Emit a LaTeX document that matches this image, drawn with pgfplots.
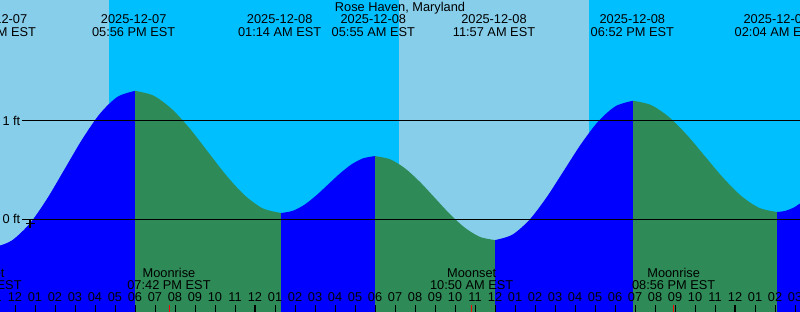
\documentclass[border=0pt]{standalone}
\usepackage{pgfplots}
\pgfplotsset{compat=1.18}
\usepackage{fontspec}
\setmainfont{Liberation Sans}
\definecolor{daysky}{HTML}{87CEEB}
\definecolor{nightsky}{HTML}{00BFFF}
\definecolor{rise}{HTML}{0000FF}
\definecolor{fall}{HTML}{2E8B57}
\newcommand{\lf}{\fontsize{12.8bp}{12.4bp}\selectfont}
\begin{document}
\begin{tikzpicture}
\begin{axis}[
  scale only axis, width=800bp, height=312bp,
  xmin=11.25, xmax=51.25, ymin=-0.938, ymax=2.22,
  axis line style={draw=none},
  axis on top,
  clip=false,
  xtick={12,...,51},
  xticklabels={12,01,02,03,04,05,06,07,08,09,10,11,12,01,02,03,04,05,06,07,08,09,10,11,12,01,02,03,04,05,06,07,08,09,10,11,12,01,02,03},
  xtick pos=bottom, ytick=\empty,
  tick align=inside, major tick length=7bp,
  tick style={black, line width=1bp},
  xticklabel style={font=\lf, anchor=base, yshift=10.2bp, inner sep=0pt},
  extra x ticks={24,48}, extra x tick labels={},
  extra x tick style={major tick style={line width=2.5bp}},
]
% day / night background
\addplot[fill=daysky, draw=none] coordinates {(11.25,-0.938) (11.25,2.22) (16.7,2.22) (16.7,-0.938)};
\addplot[fill=nightsky, draw=none] coordinates {(16.7,-0.938) (16.7,2.22) (31.2,2.22) (31.2,-0.938)};
\addplot[fill=daysky, draw=none] coordinates {(31.2,-0.938) (31.2,2.22) (40.7,2.22) (40.7,-0.938)};
\addplot[fill=nightsky, draw=none] coordinates {(40.7,-0.938) (40.7,2.22) (51.25,2.22) (51.25,-0.938)};
% tide curve
\addplot[fill=rise, draw=none, smooth] coordinates {(11.25,-0.265) (11.875,-0.210) (12.75,-0.040) (13.625,0.215) (14.5,0.515) (15.375,0.815) (16.25,1.070) (17.125,1.240) (18.0,1.300)} -- (axis cs:18.0,-0.938) -- (axis cs:11.25,-0.938) -- cycle;
\addplot[fill=fall, draw=none, smooth] coordinates {(18.0,1.300) (18.9125,1.253) (19.825,1.119) (20.7375,0.919) (21.65,0.682) (22.5625,0.445) (23.475,0.245) (24.3875,0.111) (25.3,0.064)} -- (axis cs:25.3,-0.938) -- (axis cs:18.0,-0.938) -- cycle;
\addplot[fill=rise, draw=none, smooth] coordinates {(25.3,0.064) (25.8875,0.086) (26.475,0.148) (27.0625,0.242) (27.65,0.352) (28.2375,0.462) (28.825,0.556) (29.4125,0.618) (30.0,0.640)} -- (axis cs:30.0,-0.938) -- (axis cs:25.3,-0.938) -- cycle;
\addplot[fill=fall, draw=none, smooth] coordinates {(30.0,0.640) (30.75,0.608) (31.5,0.516) (32.25,0.378) (33.0,0.215) (33.75,0.052) (34.5,-0.086) (35.25,-0.178) (36.0,-0.210)} -- (axis cs:36.0,-0.938) -- (axis cs:30.0,-0.938) -- cycle;
\addplot[fill=rise, draw=none, smooth] coordinates {(36.0,-0.210) (36.8625,-0.156) (37.725,-0.004) (38.5875,0.225) (39.45,0.495) (40.3125,0.765) (41.175,0.994) (42.0375,1.146) (42.9,1.200)} -- (axis cs:42.9,-0.938) -- (axis cs:36.0,-0.938) -- cycle;
\addplot[fill=fall, draw=none, smooth] coordinates {(42.9,1.200) (43.8,1.157) (44.7,1.035) (45.6,0.853) (46.5,0.637) (47.4,0.422) (48.3,0.239) (49.2,0.117) (50.1,0.074)} -- (axis cs:50.1,-0.938) -- (axis cs:42.9,-0.938) -- cycle;
\addplot[fill=rise, draw=none, smooth] coordinates {(50.1,0.074) (50.5,0.085) (50.9,0.115) (51.25,0.160)} -- (axis cs:51.25,-0.938) -- (axis cs:50.1,-0.938) -- cycle;
% level lines
\addplot[black, line width=1bp] coordinates {(12.35,0) (51.25,0)};
\addplot[black, line width=1bp] coordinates {(12.35,1) (51.25,1)};
\addplot[black, only marks, mark=+, mark size=4.5bp, mark options={line width=1.2bp}] coordinates {(12.75,-0.045)};
% moon event ticks
\addplot[red, line width=1bp] coordinates {(19.7,-0.938) (19.7,-0.867)};
\addplot[red, line width=1bp] coordinates {(34.833,-0.938) (34.833,-0.867)};
\addplot[red, line width=1bp] coordinates {(44.933,-0.938) (44.933,-0.867)};
% level labels
\node[anchor=base east, font=\lf, inner sep=0pt] at (axis cs:12.275,0.954) {1 ft};
\node[anchor=base east, font=\lf, inner sep=0pt] at (axis cs:12.275,-0.046) {0 ft};
% title
\node[anchor=base, font=\lf, inner sep=0pt] at (axis cs:31.25,2.105) {Rose Haven, Maryland};
% tide events
\foreach \t/\d/\h in {10.97/2025-12-07/10:58 AM EST, 17.933/2025-12-07/05:56 PM EST, 25.233/2025-12-08/01:14 AM EST, 29.917/2025-12-08/05:55 AM EST, 35.95/2025-12-08/11:57 AM EST, 42.867/2025-12-08/06:52 PM EST, 50.067/2025-12-09/02:04 AM EST}{
  \edef\temp{\noexpand\node[anchor=base, font=\noexpand\lf, inner sep=0pt] at (axis cs:\t,1.979) {\d};
  \noexpand\node[anchor=base, font=\noexpand\lf, inner sep=0pt] at (axis cs:\t,1.853) {\h};}
  \temp
}
% moon events
\foreach \t/\d/\h in {10.25/Moonset/10:15 AM EST, 19.7/Moonrise/07:42 PM EST, 34.833/Moonset/10:50 AM EST, 44.933/Moonrise/08:56 PM EST}{
  \edef\temp{\noexpand\node[anchor=base, font=\noexpand\lf, inner sep=0pt] at (axis cs:\t,-0.593) {\d};
  \noexpand\node[anchor=base, font=\noexpand\lf, inner sep=0pt] at (axis cs:\t,-0.711) {\h};}
  \temp
}
\node[anchor=base, font=\lf, inner sep=0pt] at (axis cs:11,-0.835) {11};
\end{axis}
\pgfresetboundingbox
\useasboundingbox (current axis.south west) rectangle (current axis.north east);
\end{tikzpicture}
\end{document}
